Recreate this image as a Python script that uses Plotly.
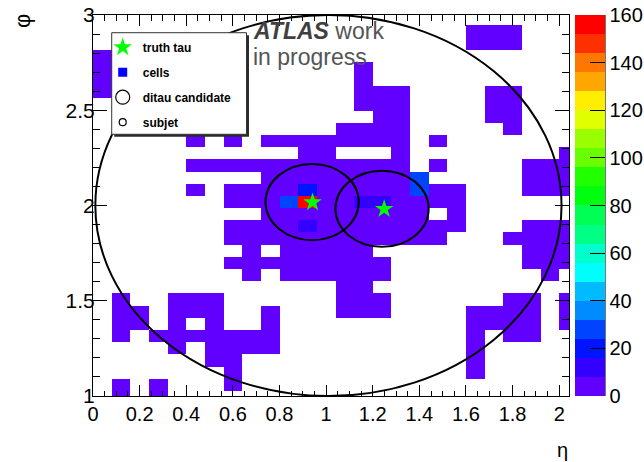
import plotly.graph_objects as go

# ---------------------------------------------------------------------------
# Cell map binning (eta x phi)
# ---------------------------------------------------------------------------
ETA_BIN = 0.08
N_ETA = 26
PHI_LO = 0.962
PHI_BIN = 0.064
N_PHI = 32

eta_edges = [round(i * ETA_BIN, 4) for i in range(N_ETA + 1)]
phi_edges = [round(PHI_LO + j * PHI_BIN, 4) for j in range(N_PHI + 1)]

# Cell energies, one string per phi row (top row first), one char per eta bin.
# '.' = empty cell; other characters map to the energies in CELL_ENERGY.
CELL_ENERGY = {"#": 3, "b": 12, "B": 20, "c": 28, "R": 156}
cell_rows = [
    "..........................",
    "....................###...",
    "....................###...",
    "#.........................",
    "#.............#...........",
    "#.............#...........",
    "#.............###....##...",
    "..............###....##...",
    "...............##....##...",
    ".............####.....#...",
    ".....#.#.########.#.......",
    "...........##...#........#",
    ".....############.#....###",
    ".........########c.....###",
    ".....#.####B#####c##...###",
    ".......###cR##bb####......",
    ".........#########.#......",
    ".......####b########...###",
    ".......############...####",
    "........#.#####........###",
    ".......#########.......###",
    "........#.######........#.",
    ".............##...........",
    ".#..###......###......##.#",
    ".##.###..#...###....####.#",
    ".##.#.#..#..........####.#",
    ".#.#######..........#.##..",
    "....#.####..........#.....",
    "......##............#.....",
    ".......#............#.....",
    ".#.#...#..................",
    ".#.#......................",
]

# truth taus
truth_eta = [0.942, 1.249]
truth_phi = [2.017, 1.982]

# reconstructed ditau candidate and its subjets (centre, radius)
ditau_eta = [1.01]
ditau_phi = [2.0]
ditau_r = [1.0]
subjet_eta = [0.94, 1.24]
subjet_phi = [2.018, 1.983]
subjet_r = [0.2, 0.2]

# colour palette (20 contour levels from 0 to 160)
Z_MAX = 160
palette = [
    "#6200ff", "#3300ff", "#0014ff", "#0044ff", "#008bff",
    "#00bbff", "#00fffc", "#00ffcc", "#00ff85", "#00ff55",
    "#00ff0e", "#22ff00", "#69ff00", "#99ff00", "#e0ff00",
    "#ffee00", "#ffa700", "#ff7700", "#ff3000", "#ff0000",
]
cbar_ticks = [0, 20, 40, 60, 80, 100, 120, 140, 160]

# ---------------------------------------------------------------------------
assert all(len(r) == N_ETA for r in cell_rows) and len(cell_rows) == N_PHI
z = []
for row in reversed(cell_rows):
    z.append([CELL_ENERGY.get(ch) for ch in row])

n = len(palette)
colorscale = []
for k, c in enumerate(palette):
    colorscale.append([k / n, c])
    colorscale.append([(k + 1) / n, c])

FONT = "Liberation Sans, Arial, Helvetica, sans-serif"

fig = go.Figure()

fig.add_trace(go.Heatmap(
    x=eta_edges, y=phi_edges, z=z,
    zmin=0, zmax=Z_MAX, colorscale=colorscale,
    hoverongaps=False,
    colorbar=dict(
        x=1.0126, xanchor="left", xpad=0, ypad=0,
        y=0.5, yanchor="middle", len=1, lenmode="fraction",
        thickness=30, outlinewidth=0,
        tickvals=cbar_ticks, ticks="inside", ticklen=15,
        tickcolor="black", tickwidth=1,
        tickfont=dict(family=FONT, size=20, color="black"),
    ),
))

fig.add_trace(go.Scatter(
    x=truth_eta, y=truth_phi, mode="markers", name="truth tau",
    legendgroup="g1",
    marker=dict(symbol="star", size=14, color="#00ff00",
                line=dict(width=0)),
))
fig.add_trace(go.Scatter(
    x=[None], y=[None], mode="markers", name="cells", legendgroup="g2",
    marker=dict(symbol="square", size=9, color="#0000ff", line=dict(width=0)),
))
fig.add_trace(go.Scatter(
    x=[None], y=[None], mode="markers", name="ditau candidate",
    legendgroup="g3",
    marker=dict(symbol="circle-open", size=14, color="black",
                line=dict(width=1.2, color="black")),
))
fig.add_trace(go.Scatter(
    x=[None], y=[None], mode="markers", name="subjet", legendgroup="g4",
    marker=dict(symbol="circle-open", size=7, color="black",
                line=dict(width=1.2, color="black")),
))

shapes = []
for cx, cy, r in zip(ditau_eta + subjet_eta, ditau_phi + subjet_phi,
                     ditau_r + subjet_r):
    shapes.append(dict(type="circle", xref="x", yref="y",
                       x0=cx - r, x1=cx + r, y0=cy - r, y1=cy + r,
                       line=dict(color="black", width=2), layer="above"))
# palette axis line
shapes.append(dict(type="line", xref="paper", yref="paper",
                   x0=1.0757, x1=1.0757, y0=0, y1=1,
                   line=dict(color="black", width=1)))
# legend frame with drop shadow
shapes.append(dict(type="rect", xref="paper", yref="paper",
                   x0=0.0446, x1=0.3277, y0=0.6803, y1=0.947,
                   fillcolor="#2a2a2a", line=dict(width=0), layer="above"))
shapes.append(dict(type="rect", xref="paper", yref="paper",
                   x0=0.0393, x1=0.3225, y0=0.6869, y1=0.9535,
                   fillcolor="white", line=dict(color="#333333", width=1),
                   layer="above"))

axis_common = dict(
    showline=True, linecolor="black", linewidth=1, mirror="allticks",
    ticks="inside", tickcolor="black", tickwidth=1,
    showgrid=False, zeroline=False,
)

fig.update_layout(
    width=644, height=462,
    margin=dict(l=93, r=75, t=15, b=66, autoexpand=False),
    paper_bgcolor="white", plot_bgcolor="white",
    font=dict(family=FONT, color="black"),
    xaxis=dict(range=[0, 2.042], tick0=0, dtick=0.2, ticklen=11,
               ticklabelstandoff=0,
               tickfont=dict(family=FONT, size=20, color="black"),
               minor=dict(dtick=0.05, ticks="inside", ticklen=5.5,
                          tickcolor="black", showgrid=False),
               **axis_common),
    yaxis=dict(range=[1, 3], tick0=1, dtick=0.5, ticklen=14,
               ticklabelstandoff=-7,
               tickfont=dict(family=FONT, size=21, color="black"),
               minor=dict(dtick=0.1, ticks="inside", ticklen=7,
                          tickcolor="black", showgrid=False),
               **axis_common),
    showlegend=True,
    legend=dict(
        x=0.0204, y=0.9535, xanchor="left", yanchor="top",
        bgcolor="rgba(0,0,0,0)", borderwidth=0,
        font=dict(family=FONT, size=12, color="black", weight="bold"),
        traceorder="grouped", tracegroupgap=6, itemwidth=30,
    ),
    shapes=shapes,
    annotations=[
        dict(xref="paper", yref="paper", x=0.331, y=0.957,
             xanchor="left", yanchor="middle", showarrow=False,
             text="<b><i>ATLAS</i></b> <span style='color:#555555'>work</span>",
             font=dict(family=FONT, size=23, color="#404040")),
        dict(xref="paper", yref="paper", x=0.331, y=0.890,
             xanchor="left", yanchor="middle", showarrow=False,
             text="in progress",
             font=dict(family=FONT, size=23, color="#555555")),
        dict(xref="paper", yref="paper", x=-0.148, y=0.983,
             xanchor="center", yanchor="middle", showarrow=False,
             text="φ", textangle=-90,
             font=dict(family=FONT, size=22, color="black")),
        dict(xref="paper", yref="paper", x=0.987, y=-0.142,
             xanchor="center", yanchor="middle", showarrow=False,
             text="η",
             font=dict(family=FONT, size=20, color="black")),
    ],
)

fig.write_html("out.html")
